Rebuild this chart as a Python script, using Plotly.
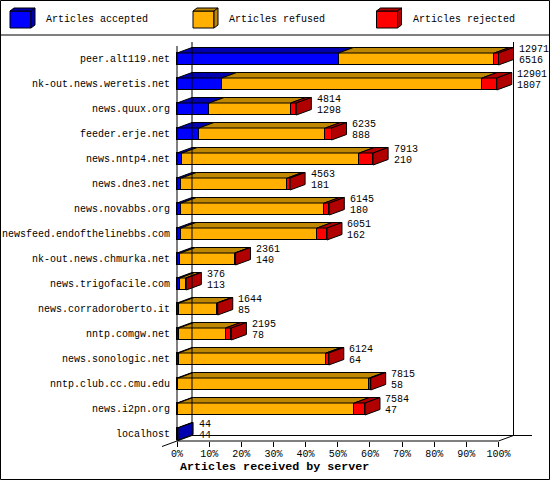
import plotly.graph_objects as go

# servers, top to bottom
servers = ["peer.alt119.net", "nk-out.news.weretis.net", "news.quux.org", "feeder.erje.net",
           "news.nntp4.net", "news.dne3.net", "news.novabbs.org", "newsfeed.endofthelinebbs.com",
           "nk-out.news.chmurka.net", "news.trigofacile.com", "news.corradoroberto.it",
           "nntp.comgw.net", "news.sonologic.net", "nntp.club.cc.cmu.edu", "news.i2pn.org", "localhost"]
offered = [12971, 12901, 4814, 6235, 7913, 4563, 6145, 6051, 2361, 376, 1644, 2195, 6124, 7815, 7584, 44]
accepted = [6516, 1807, 1298, 888, 210, 181, 180, 162, 140, 113, 85, 78, 64, 58, 47, 44]
refused = [6290, 10500, 3290, 5100, 7146, 4274, 5766, 5490, 2190, 240, 1520, 1880, 5951, 7700, 7108, 0]
rejected = [165, 594, 226, 247, 557, 108, 199, 399, 31, 23, 39, 237, 109, 57, 429, 0]

series_names = ["Articles accepted", "Articles refused", "Articles rejected"]
front_colors = ["#0000ff", "#ffb000", "#ff0000"]
dark_colors = ["#0000b0", "#c08800", "#b00000"]
tick_vals = [0, 10, 20, 30, 40, 50, 60, 70, 80, 90, 100]
x_title = "Articles received by server"

FONT = "Liberation Mono"

# plot area in pixels and axis ranges
L, R, T, B = 155, 549, 38, 441
PX = 3.215              # pixels per percent
ROW = 25.0              # pixels per row
XMIN, XMAX = (L - 177) / PX, (R - 177) / PX
YTOP, YBOT = (T - 59) / ROW, (B - 59) / ROW
DX, DY = 15 / PX, -5.5 / ROW      # 3d depth
H = 6 / ROW                        # half bar height

def xp(v):   # data x -> paper
    return (v - XMIN) / (XMAX - XMIN)

def yp(v):   # data y -> paper (reversed axis)
    return (YBOT - v) / (YBOT - YTOP)

def pxx(p):  # pixel -> paper
    return (p - L) / (R - L)

def pxy(p):
    return (B - p) / (B - T)

top = max(offered)
rows = list(range(len(servers)))
pct = [[v / top * 100 for v in s] for s in (accepted, refused, rejected)]

fig = go.Figure()

# front faces
for k in range(3):
    fig.add_trace(go.Bar(y=rows, x=pct[k], orientation="h", width=2 * H,
                         marker=dict(color=front_colors[k], line=dict(color="black", width=1)),
                         name=series_names[k], hoverinfo="skip"))

# top faces and end side faces
tops = [([], []) for _ in range(3)]
sides = [([], []) for _ in range(3)]
for i in rows:
    x0 = 0
    last = 0
    for k in range(3):
        x1 = x0 + pct[k][i]
        if pct[k][i] > 0:
            last = k
            tx, ty = tops[k]
            tx += [x0, x1, x1 + DX, x0 + DX, x0, None]
            ty += [i - H, i - H, i - H + DY, i - H + DY, i - H, None]
        x0 = x1
    sx, sy = sides[last]
    sx += [x0, x0 + DX, x0 + DX, x0, x0, None]
    sy += [i - H, i - H + DY, i + H + DY, i + H, i - H, None]

for k in range(3):
    for xs, ys in (tops[k], sides[k]):
        if xs:
            fig.add_trace(go.Scatter(x=xs, y=ys, mode="lines", fill="toself",
                                     fillcolor=dark_colors[k], line=dict(color="black", width=1),
                                     hoverinfo="skip", showlegend=False))

annotations = []
for i in rows:
    annotations.append(dict(x=-5 / PX, y=i, xref="x", yref="y", text=servers[i], showarrow=False,
                            xanchor="right", yanchor="middle", font=dict(family=FONT, size=10, color="black")))
    lx = offered[i] / top * 100 + DX + 3.5 / PX
    annotations.append(dict(x=lx, y=i - 9.5 / ROW, xref="x", yref="y", text=str(offered[i]), showarrow=False,
                            xanchor="left", yanchor="middle", font=dict(family=FONT, size=10, color="black")))
    annotations.append(dict(x=lx, y=i + 1.5 / ROW, xref="x", yref="y", text=str(accepted[i]), showarrow=False,
                            xanchor="left", yanchor="middle", font=dict(family=FONT, size=10, color="black")))

annotations.append(dict(x=pxx(274), y=pxy(466.5), xref="paper", yref="paper", text="<b>" + x_title + "</b>",
                        showarrow=False, xanchor="center", yanchor="middle",
                        font=dict(family=FONT, size=11.7, color="black")))

shapes = []
line = dict(color="black", width=1)

def seg(xa, ya, xb, yb):
    shapes.append(dict(type="line", xref="paper", yref="paper", x0=xa, y0=ya, x1=xb, y1=yb, line=line))

# frame: floor and walls
seg(xp(0), yp(YBOT), xp(100), yp(YBOT))
seg(xp(DX), yp(YBOT + DY), xp((532 - 177) / PX), yp(YBOT + DY))
seg(xp(-DX), yp(YBOT - DY), xp(DX), yp(YBOT + DY))
seg(xp(100), yp(YBOT), xp(100 + DX), yp(YBOT + DY))
seg(xp(0), yp((46 - 59) / ROW), xp(0), yp(YBOT))
seg(xp(DX), yp((42 - 59) / ROW), xp(DX), yp(YBOT + DY))
seg(xp(100 + DX), yp((42 - 59) / ROW), xp(100 + DX), yp(YBOT + DY))

# legend box line and outer border
seg(pxx(0), pxy(35), pxx(550), pxy(35))
shapes.append(dict(type="rect", xref="paper", yref="paper", x0=pxx(0.5), y0=pxy(0.5), x1=pxx(549.5),
                   y1=pxy(479.5), line=line))

# legend cubes
for k, off in enumerate([0, 183, 366.5]):
    fx0, fx1, fy0, fy1 = 10 + off, 31 + off, 11, 28
    shapes.append(dict(type="rect", xref="paper", yref="paper", x0=pxx(fx0), x1=pxx(fx1),
                       y0=pxy(fy0), y1=pxy(fy1), fillcolor=front_colors[k], line=line))
    pts = [(fx0, fy0), (fx1, fy0), (fx1 + 4, fy0 - 3), (fx0 + 4, fy0 - 3)]
    path = "M " + " L ".join(f"{pxx(a)},{pxy(b)}" for a, b in pts) + " Z"
    shapes.append(dict(type="path", xref="paper", yref="paper", path=path, fillcolor=dark_colors[k], line=line))
    pts = [(fx1, fy0), (fx1 + 4, fy0 - 3), (fx1 + 4, fy1 - 3), (fx1, fy1)]
    path = "M " + " L ".join(f"{pxx(a)},{pxy(b)}" for a, b in pts) + " Z"
    shapes.append(dict(type="path", xref="paper", yref="paper", path=path, fillcolor=dark_colors[k], line=line))
    annotations.append(dict(x=pxx(44 + off), y=pxy(19.5), xref="paper", yref="paper", text=series_names[k],
                            showarrow=False, xanchor="left", yanchor="middle",
                            font=dict(family=FONT, size=10, color="black")))

fig.update_layout(
    width=550, height=480, autosize=False,
    margin=dict(l=L, r=550 - R, t=T, b=480 - B),
    barmode="stack", bargap=0, showlegend=False,
    paper_bgcolor="white", plot_bgcolor="white",
    xaxis=dict(range=[XMIN, XMAX], tickvals=tick_vals, ticktext=[f"{v}%" for v in tick_vals],
               ticks="outside", ticklen=5, tickwidth=1, tickcolor="black", ticklabelstandoff=-2,
               showgrid=False, zeroline=False, showline=False, fixedrange=True,
               tickfont=dict(family=FONT, size=10, color="black")),
    yaxis=dict(range=[YBOT, YTOP], showticklabels=False, showgrid=False, zeroline=False,
               showline=False, ticks="", fixedrange=True),
    shapes=shapes, annotations=annotations,
)

# page body margin would push the 550x480 figure out of the window
fig.write_html("out.html", config={"displayModeBar": False},
               post_script="document.body.style.margin='0px';")
